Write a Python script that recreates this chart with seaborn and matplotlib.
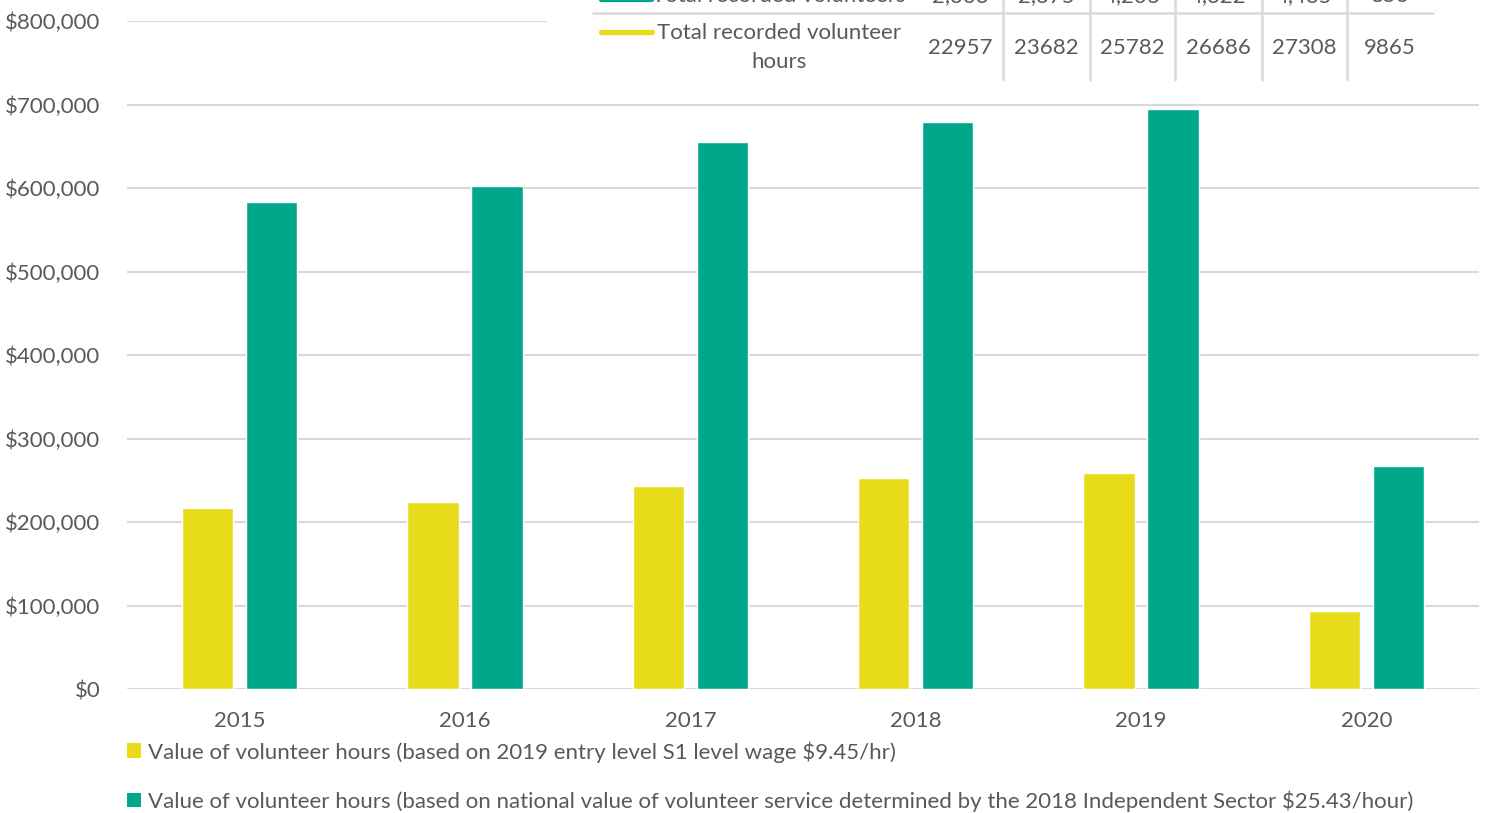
import numpy as np
import pandas as pd
import seaborn as sns
import matplotlib.pyplot as plt
from matplotlib.patches import Patch, Rectangle
from matplotlib.lines import Line2D
from matplotlib.ticker import FuncFormatter

# ---- data ----
years = ['2015', '2016', '2017', '2018', '2019', '2020']
wage_value = [216900, 223800, 243600, 252200, 258100, 93200]
national_value = [583800, 602200, 655600, 678600, 694400, 267300]
total_hours = ['22957', '23682', '25782', '26686', '27308', '9865']
total_volunteers = ['2,303', '2,375', '4,206', '4,322', '4,435', '853']  # top row, mostly cut off

label_wage = 'Value of volunteer hours (based on 2019 entry level S1 level wage $9.45/hr)'
label_national = ('Value of volunteer hours (based on national value of volunteer service '
                  'determined by the 2018 Independent Sector $25.43/hour)')

YELLOW = '#E8DC1A'
TEAL = '#00A88B'
GRID = '#D9D9D9'
TXT = '#595959'

sns.set_theme(style='white')
plt.rcParams['font.family'] = ['Lato', 'DejaVu Sans']
FS = 16.0

W, H = 1488, 813
fig = plt.figure(figsize=(W / 100, H / 100), dpi=100)


def fx(x):
    return x / W


def fy(y):
    return 1 - y / H


ax = fig.add_axes([fx(127), fy(689), fx(1479) - fx(127), fy(21) - fy(689)])

df = pd.DataFrame({
    'year': years * 2,
    'value': wage_value + national_value,
    'series': ['wage'] * len(years) + ['national'] * len(years),
})

sns.barplot(data=df, x='year', y='value', hue='series', palette=[YELLOW, TEAL],
            width=0.57, gap=0.2, saturation=1, legend=False, ax=ax, zorder=3)

ax.set_ylim(0, 800000)
ax.set_xlim(-0.5, len(years) - 0.5)
ax.set_yticks(np.arange(0, 800001, 100000))
ax.yaxis.set_major_formatter(FuncFormatter(lambda v, p: f'${v:,.0f}'))
ax.grid(axis='y', color=GRID, linewidth=1.5, zorder=0)
ax.grid(axis='x', visible=False)
for s in ax.spines.values():
    s.set_visible(False)
ax.tick_params(axis='y', length=0, pad=19, labelsize=FS, labelcolor=TXT)
ax.tick_params(axis='x', length=0, pad=16, labelsize=FS, labelcolor=TXT)
ax.set_xlabel('')
ax.set_ylabel('')

# ---- data table box at top right (covers the top gridline) ----
fig.patches.append(Rectangle((fx(547), fy(88)), 1 - fx(547), fy(0) - fy(88) + 0.01,
                             transform=fig.transFigure, facecolor='white',
                             edgecolor='none', zorder=5))

col_edges = [917, 1003, 1090, 1175, 1262, 1347, 1433]
centers = [(a + b) / 2 for a, b in zip(col_edges[:-1], col_edges[1:])]

fig.add_artist(Line2D([fx(593), fx(1433)], [fy(13), fy(13)], color=GRID, lw=1.8,
                      transform=fig.transFigure, zorder=6))
for xe in col_edges[1:-1]:
    fig.add_artist(Line2D([fx(xe), fx(xe)], [fy(-5), fy(80)], color=GRID, lw=1.8,
                          transform=fig.transFigure, zorder=6))

# top row (clipped by the figure edge, as in the source)
fig.add_artist(Line2D([fx(601), fx(652)], [fy(0), fy(0)], color=TEAL, lw=3.0,
                      transform=fig.transFigure, zorder=7))
fig.text(fx(779), fy(-4), 'Total recorded volunteers', ha='center', va='center',
         fontsize=FS, color=TXT, zorder=7)
for c, v in zip(centers, total_volunteers):
    fig.text(fx(c), fy(-4), v, ha='center', va='center', fontsize=FS, color=TXT, zorder=7)

# hours row
fig.add_artist(Line2D([fx(601), fx(652)], [fy(32), fy(32)], color=YELLOW, lw=3.8,
                      solid_capstyle='round', transform=fig.transFigure, zorder=7))
fig.text(fx(779), fy(33), 'Total recorded volunteer', ha='center', va='center',
         fontsize=FS, color=TXT, zorder=7)
fig.text(fx(779), fy(62), 'hours', ha='center', va='center',
         fontsize=FS, color=TXT, zorder=7)
for c, v in zip(centers, total_hours):
    fig.text(fx(c), fy(48), v, ha='center', va='center', fontsize=FS, color=TXT, zorder=7)

# ---- legend at the bottom ----
handles = [Patch(facecolor=YELLOW, edgecolor='none', label=label_wage),
           Patch(facecolor=TEAL, edgecolor='none', label=label_national)]
fig.legend(handles=handles, loc='upper left', bbox_to_anchor=(fx(127), fy(741)),
           frameon=False, fontsize=FS, labelcolor=TXT, handlelength=0.65,
           handleheight=0.65, handletextpad=0.3, labelspacing=1.25,
           borderpad=0, borderaxespad=0)

fig.savefig('out.png', dpi=100)
